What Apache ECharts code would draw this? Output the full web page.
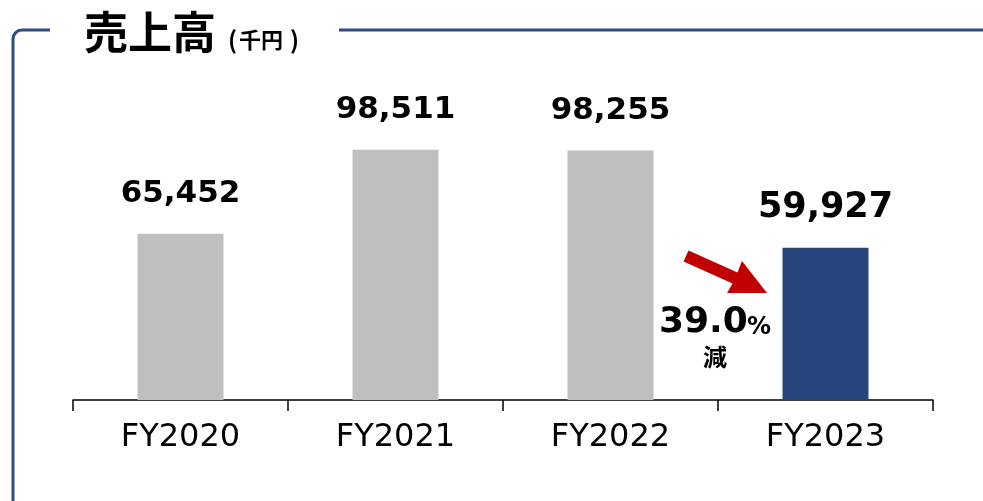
<!DOCTYPE html>
<html>
<head>
<meta charset="utf-8">
<script src="https://cdn.jsdelivr.net/npm/echarts@6/dist/echarts.min.js"></script>
<style>
  html, body { margin: 0; padding: 0; background: #fff; }
  #chart { width: 983px; height: 501px; }
</style>
</head>
<body>
<div id="chart"></div>
<script>
const years = ['FY2020', 'FY2021', 'FY2022', 'FY2023'];
const sales = [65452, 98511, 98255, 59927];
const changeText = '39.0';

const chart = echarts.init(document.getElementById('chart'));
const frameColor = '#2F4B80';
const fontFam = '"DejaVu Sans", Verdana, sans-serif';
const cjkFam = '"Noto Sans CJK JP", sans-serif';

chart.setOption({
  animation: false,
  grid: { left: 73, right: 50, top: 146, bottom: 101 },
  xAxis: {
    type: 'category',
    data: years,
    axisLine: { show: true, lineStyle: { color: '#000', width: 1.5 } },
    axisTick: { show: true, inside: false, length: 11, lineStyle: { color: '#000', width: 1.5 } },
    axisLabel: { color: '#000', fontSize: 32, fontFamily: fontFam, margin: 22 }
  },
  yAxis: {
    type: 'value', min: 0, max: 100000,
    show: false, splitLine: { show: false }
  },
  series: [{
    type: 'bar',
    barWidth: 86,
    data: sales.map((v, i) => ({
      value: v,
      itemStyle: { color: i === sales.length - 1 ? '#28457C' : '#BFBFBF' },
      label: i === sales.length - 1 ? { fontSize: 35, distance: 22 } : {}
    })),
    label: {
      show: true,
      position: 'top',
      distance: 24,
      color: '#000',
      fontWeight: 'bold',
      fontSize: 31,
      fontFamily: fontFam,
      formatter: p => p.value.toLocaleString('en-US')
    }
  }],
  graphic: [
    // frame
    {
      type: 'line', silent: true,
      shape: { x1: 50, y1: 30, x2: 22, y2: 30 },
      style: { stroke: frameColor, lineWidth: 3 }
    },
    {
      type: 'arc', silent: true,
      shape: { cx: 22, cy: 39, r: 9, startAngle: Math.PI, endAngle: Math.PI * 1.5 },
      style: { stroke: frameColor, lineWidth: 3, fill: null }
    },
    {
      type: 'line', silent: true,
      shape: { x1: 13, y1: 39, x2: 13, y2: 510 },
      style: { stroke: frameColor, lineWidth: 3 }
    },
    {
      type: 'line', silent: true,
      shape: { x1: 339, y1: 30, x2: 990, y2: 30 },
      style: { stroke: frameColor, lineWidth: 3 }
    },
    {
      type: 'text', x: 84, y: 32,
      style: { text: '売上高', font: 'bold 44px ' + cjkFam, fill: '#000', verticalAlign: 'middle' }
    },
    {
      type: 'text', x: 228, y: 40,
      style: { text: '(', font: 'bold 24px ' + cjkFam, fill: '#000', verticalAlign: 'middle' }
    },
    {
      type: 'text', x: 239, y: 40,
      style: { text: '千円', font: 'bold 22px ' + cjkFam, fill: '#000', verticalAlign: 'middle' }
    },
    {
      type: 'text', x: 290, y: 40,
      style: { text: ')', font: 'bold 24px ' + cjkFam, fill: '#000', verticalAlign: 'middle' }
    },
    // decrease arrow
    {
      type: 'polygon', silent: true,
      shape: { points: [[688.5, 250.5], [737.5, 272.5], [742, 261], [767, 293], [727, 293], [732.5, 283.5], [683.5, 261.5]] },
      style: { fill: '#C00000' }
    },
    {
      type: 'text', x: 659, y: 323,
      style: { text: changeText, font: 'bold 36px ' + fontFam, fill: '#000', verticalAlign: 'middle' }
    },
    {
      type: 'text', x: 747, y: 328,
      style: { text: '%', font: 'bold 24px ' + fontFam, fill: '#000', verticalAlign: 'middle' }
    },
    {
      type: 'text', x: 703, y: 357,
      style: { text: '減', font: 'bold 24px ' + cjkFam, fill: '#000', verticalAlign: 'middle' }
    }
  ]
});
</script>
</body>
</html>
